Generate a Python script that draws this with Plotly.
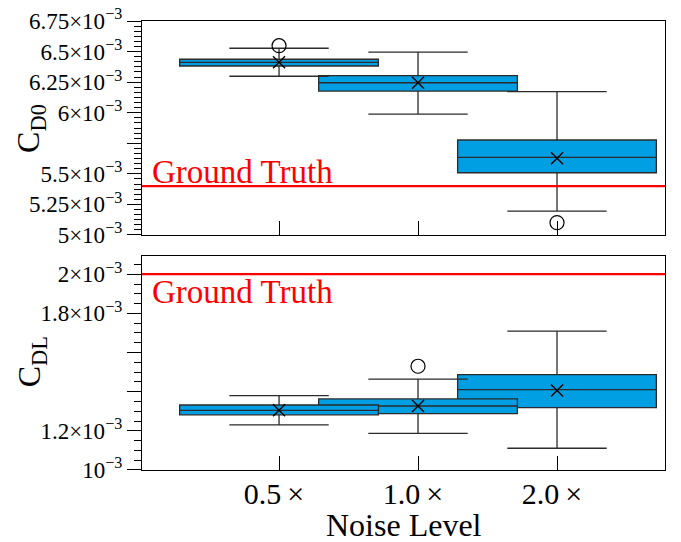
import plotly.graph_objects as go

# ---------------- data ----------------
categories = ["0.5×", "1.0×", "2.0×"]
category_labels = ["0.5\u2009×", "1.0\u2009×", "2.0\u2009×"]

# C_D0 (top panel), values in units of 1e-3
cd0_q1 = [6.382, 6.177, 5.509]
cd0_median = [6.412, 6.245, 5.635]
cd0_q3 = [6.437, 6.303, 5.777]
cd0_low = [6.298, 5.989, 5.196]
cd0_high = [6.527, 6.496, 6.172]
cd0_mean = [6.412, 6.245, 5.627]
cd0_out_x = ["0.5×", "2.0×"]
cd0_out_y = [6.548, 5.101]
cd0_truth = 5.40

# C_DL (bottom panel), values in units of 1e-3
cdl_q1 = [1.282, 1.288, 1.319]
cdl_median = [1.305, 1.327, 1.411]
cdl_q3 = [1.332, 1.363, 1.487]
cdl_low = [1.230, 1.187, 1.111]
cdl_high = [1.380, 1.464, 1.709]
cdl_mean = [1.305, 1.327, 1.406]
cdl_out_x = ["1.0×"]
cdl_out_y = [1.530]
cdl_truth = 2.00

cd0_ticks = [5.0, 5.25, 5.5, 5.75, 6.0, 6.25, 6.5, 6.75]
cd0_ticktext = ["5", "5.25", "5.5", "", "6", "6.25", "6.5", "6.75"]
cdl_ticks = [1.0, 1.2, 1.4, 1.6, 1.8, 2.0]
cdl_ticktext = ["1", "1.2", "", "", "1.8", "2"]

S = 1e-3
FONT = "Liberation Serif, Times New Roman, serif"
BOXFILL = "#009FE3"
BOXLINE = "#2b2b2b"

def tick_label(t, plain_one=False):
    if t == "":
        return ""
    if t == "1" and plain_one:
        return "10<sup>−3</sup>"
    return t + "×10<sup>−3</sup>"

fig = go.Figure()

def add_panel(q1, med, q3, lo, hi, mean, ox, oy, xa, ya):
    # draw later boxes first so earlier ones sit on top
    for i in reversed(range(len(categories))):
        fig.add_trace(go.Box(
            x=[categories[i]], q1=[q1[i] * S], median=[med[i] * S], q3=[q3[i] * S],
            lowerfence=[lo[i] * S], upperfence=[hi[i] * S],
            width=1.43, whiskerwidth=0.5, boxpoints=False,
            fillcolor=BOXFILL, line=dict(color=BOXLINE, width=1.3),
            xaxis=xa, yaxis=ya, showlegend=False, hoverinfo="skip"))
    fig.add_trace(go.Scatter(
        x=categories, y=[m * S for m in mean], mode="markers",
        marker=dict(symbol="x-thin-open", size=12, color="black",
                    line=dict(color="black", width=1.4)),
        xaxis=xa, yaxis=ya, showlegend=False, hoverinfo="skip"))
    fig.add_trace(go.Scatter(
        x=ox, y=[v * S for v in oy], mode="markers",
        marker=dict(symbol="circle-open", size=14, color="black",
                    line=dict(color="black", width=1.2)),
        xaxis=xa, yaxis=ya, showlegend=False, hoverinfo="skip"))

add_panel(cd0_q1, cd0_median, cd0_q3, cd0_low, cd0_high, cd0_mean, cd0_out_x, cd0_out_y, "x", "y")
add_panel(cdl_q1, cdl_median, cdl_q3, cdl_low, cdl_high, cdl_mean, cdl_out_x, cdl_out_y, "x2", "y2")

xrange = [-0.986, 2.777]
common_x = dict(type="category", categoryorder="array", categoryarray=categories,
                tickmode="array", tickvals=categories, ticktext=category_labels,
                range=xrange, showline=True, mirror=True, linecolor="black", linewidth=1.3,
                ticks="inside", ticklen=14, tickcolor="black", tickwidth=1.2,
                showgrid=False, zeroline=False, automargin=False)
common_y = dict(showline=True, mirror=True, linecolor="black", linewidth=1.3,
                ticks="outside", ticklen=14, tickcolor="black", tickwidth=1.2,
                showgrid=False, zeroline=False, tickmode="array", automargin=False,
                ticklabeloverflow="allow",
                tickfont=dict(family=FONT, size=23, color="black"))

fig.update_layout(
    width=681, height=542,
    margin=dict(l=142, r=16, t=21, b=72),
    paper_bgcolor="white", plot_bgcolor="white",
    boxmode="overlay",
    font=dict(family=FONT, color="black"),
    xaxis=dict(anchor="y", domain=[0, 1], showticklabels=False, **common_x),
    xaxis2=dict(anchor="y2", domain=[0, 1], showticklabels=True, ticklabelshift=-5,
                ticklabelstandoff=-3,
                tickfont=dict(family=FONT, size=30, color="black"), **common_x),
    yaxis=dict(anchor="x", domain=[0.5234, 1], range=[5.0 * S, 6.75 * S],
               tickvals=[t * S for t in cd0_ticks],
               ticktext=[tick_label(t) for t in cd0_ticktext],
               minor=dict(tickmode="linear", tick0=5.0 * S, dtick=0.25 * S / 6,
                          ticks="outside", ticklen=7, tickcolor="black", tickwidth=1),
               **common_y),
    yaxis2=dict(anchor="x2", domain=[0, 0.4766], range=[1.0 * S, 2.093 * S],
                tickvals=[t * S for t in cdl_ticks],
                ticktext=[tick_label(tt, plain_one=True) for tt in cdl_ticktext],
                minor=dict(tickmode="linear", tick0=1.0 * S, dtick=0.05 * S,
                           ticks="outside", ticklen=7, tickcolor="black", tickwidth=1),
                **common_y),
)

# Ground truth lines
fig.add_shape(type="line", xref="x domain", yref="y", x0=0, x1=1,
              y0=cd0_truth * S, y1=cd0_truth * S, line=dict(color="red", width=2.2))
fig.add_shape(type="line", xref="x2 domain", yref="y2", x0=0, x1=1,
              y0=cdl_truth * S, y1=cdl_truth * S, line=dict(color="red", width=2.2))

fig.add_annotation(text="Ground Truth", xref="x domain", yref="y", x=0.015, y=cd0_truth * S,
                   xanchor="left", yanchor="bottom", showarrow=False, yshift=-6,
                   font=dict(family=FONT, size=33, color="red"))
fig.add_annotation(text="Ground Truth", xref="x2 domain", yref="y2", x=0.015, y=cdl_truth * S,
                   xanchor="left", yanchor="top", showarrow=False, yshift=2,
                   font=dict(family=FONT, size=33, color="red"))

# axis titles
fig.add_annotation(text="C<sub>D0</sub>", xref="paper", yref="paper", x=-0.212, y=0.76,
                   xanchor="center", yanchor="middle", textangle=-90, showarrow=False,
                   font=dict(family=FONT, size=32, color="black"))
fig.add_annotation(text="C<sub>DL</sub>", xref="paper", yref="paper", x=-0.212, y=0.24,
                   xanchor="center", yanchor="middle", textangle=-90, showarrow=False,
                   font=dict(family=FONT, size=32, color="black"))
fig.add_annotation(text="Noise Level", xref="paper", yref="paper", x=0.5, y=-0.077,
                   xanchor="center", yanchor="top", showarrow=False,
                   font=dict(family=FONT, size=32, color="black"))

# remove the default 8px page margin so the figure fills the window exactly
fig.write_html("out.html",
               config={"displayModeBar": False},
               post_script="document.body.style.margin='0px';document.body.style.overflow='hidden';")
